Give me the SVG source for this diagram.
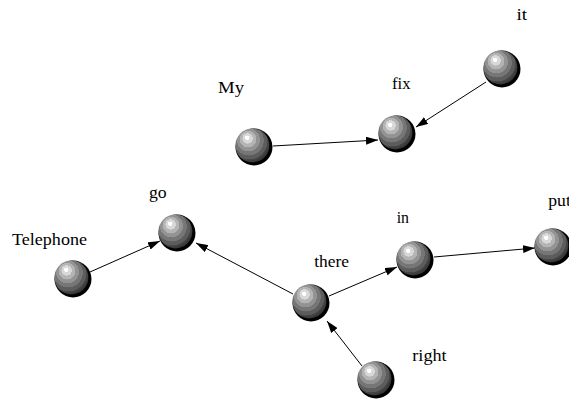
<svg xmlns="http://www.w3.org/2000/svg" width="569" height="403" viewBox="0 0 569 403">
<style>
.lbl{font-family:"Liberation Serif","Times New Roman",serif;font-size:16px;fill:#000}
.edge{stroke:#000;stroke-width:1;fill:none;marker-end:url(#arr)}
.rim{fill:#000}
.ball{fill:url(#sph)}
</style>
<defs>
<radialGradient id="sph" cx="0.42" cy="0.4" r="0.62" fx="0.34" fy="0.26">
<stop offset="0" stop-color="#ffffff"/>
<stop offset="0.1" stop-color="#ffffff"/>
<stop offset="0.11" stop-color="#d8d8d8"/>
<stop offset="0.24" stop-color="#d8d8d8"/>
<stop offset="0.25" stop-color="#b4b4b4"/>
<stop offset="0.39" stop-color="#b4b4b4"/>
<stop offset="0.4" stop-color="#939393"/>
<stop offset="0.54" stop-color="#939393"/>
<stop offset="0.55" stop-color="#767676"/>
<stop offset="0.7" stop-color="#767676"/>
<stop offset="0.71" stop-color="#5c5c5c"/>
<stop offset="0.85" stop-color="#5c5c5c"/>
<stop offset="0.86" stop-color="#474747"/>
<stop offset="1" stop-color="#333333"/>
</radialGradient>
<marker id="arr" viewBox="0 0 12 8" refX="12" refY="4" markerWidth="12" markerHeight="8" markerUnits="userSpaceOnUse" orient="auto">
<path d="M0,0 L12,4 L0,8 Z" fill="#000"/>
</marker>
<symbol id="s" overflow="visible">
<circle class="rim" cx="0" cy="0" r="18.5"/>
<circle class="ball" cx="-1.6" cy="-1.6" r="17"/>
</symbol>
</defs>
<g id="connectors">
<line class="edge" x1="273" y1="146" x2="378" y2="140"/>
<line class="edge" x1="486" y1="82" x2="416" y2="127"/>
<line class="edge" x1="90" y1="272" x2="160" y2="241"/>
<line class="edge" x1="293" y1="294" x2="196" y2="243"/>
<line class="edge" x1="329" y1="296" x2="397" y2="267"/>
<line class="edge" x1="434" y1="257" x2="535" y2="248"/>
<line class="edge" x1="362" y1="366" x2="327" y2="321"/>
</g>
<g id="n-my"><use href="#s" x="254" y="147"/><text class="lbl" x="218" y="93" textLength="26" lengthAdjust="spacingAndGlyphs">My</text></g>
<g id="n-fix"><use href="#s" x="397" y="134"/><text class="lbl" x="392" y="89" textLength="18.5" lengthAdjust="spacingAndGlyphs">fix</text></g>
<g id="n-it"><use href="#s" x="502" y="69"/><text class="lbl" x="516.5" y="20" textLength="10.6" lengthAdjust="spacingAndGlyphs">it</text></g>
<g id="n-go"><use href="#s" x="177" y="233"/><text class="lbl" x="149" y="198" textLength="17.7" lengthAdjust="spacingAndGlyphs">go</text></g>
<g id="n-telephone"><use href="#s" x="73" y="279"/><text class="lbl" x="12" y="245" textLength="75" lengthAdjust="spacingAndGlyphs">Telephone</text></g>
<g id="n-there"><use href="#s" x="311" y="303"/><text class="lbl" x="314.3" y="267" textLength="34.7" lengthAdjust="spacingAndGlyphs">there</text></g>
<g id="n-in"><use href="#s" x="415" y="260"/><text class="lbl" x="396.7" y="223" textLength="12.3" lengthAdjust="spacingAndGlyphs">in</text></g>
<g id="n-put"><use href="#s" x="553" y="247"/><text class="lbl" x="548.3" y="206" textLength="22.5" lengthAdjust="spacingAndGlyphs">put</text></g>
<g id="n-right"><use href="#s" x="376" y="380"/><text class="lbl" x="412.3" y="361" textLength="34.3" lengthAdjust="spacingAndGlyphs">right</text></g>
</svg>
